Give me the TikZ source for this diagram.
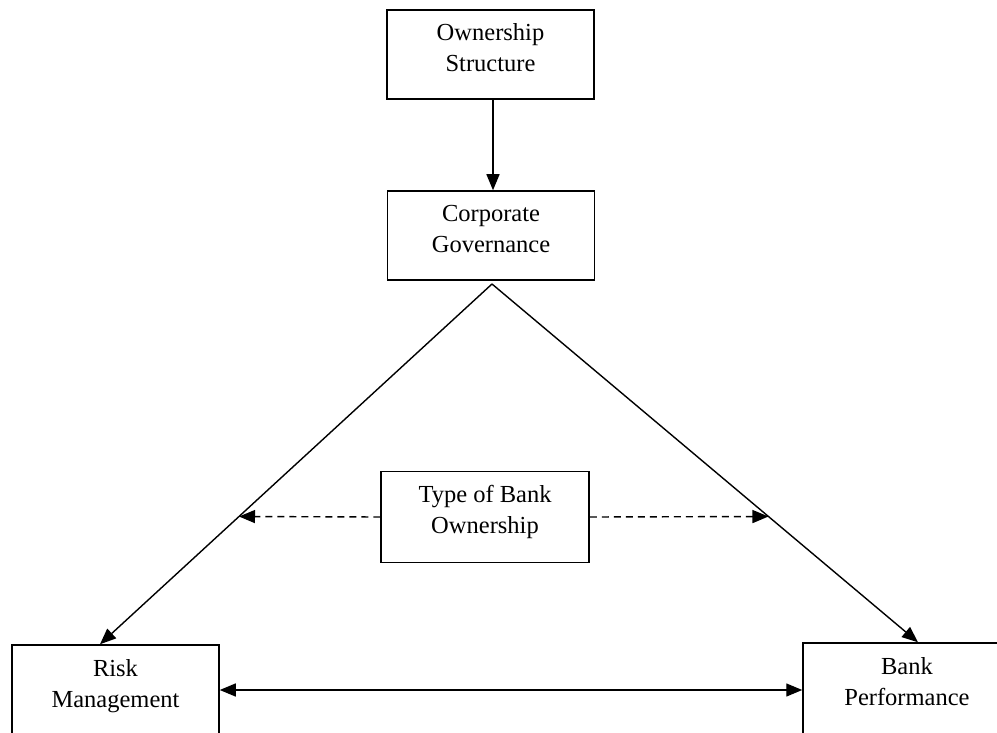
\documentclass[tikz,border=0pt]{standalone}
\usepackage{fontspec}
\setmainfont{Liberation Serif}
\usetikzlibrary{arrows.meta}
\begin{document}
\begin{tikzpicture}[x=1pt,y=-1pt,
  box/.style={draw,line width=1.5pt,inner sep=0pt,minimum width=207pt,minimum height=90pt},
  lbl/.style={anchor=base,align=center,inner sep=0pt,font=\fontsize{24.5}{31}\selectfont},
  conn/.style={line width=1.4pt,-{Triangle[length=16pt,width=13pt]}},
  dconn/.style={conn,dash pattern=on 7pt off 5pt},
  biconn/.style={line width=1.4pt,{Triangle[length=16pt,width=13pt]}-{Triangle[length=16pt,width=13pt]}}]
\useasboundingbox (0,0) rectangle (997,733);
\begin{scope}
\clip (0,0) rectangle (997,733);
\node[box,minimum height=89pt] (own) at (490.5,54.5) {};
\node[box,minimum height=89pt] (corp) at (491,235.5) {};
\node[box,minimum height=91pt,minimum width=208pt] (type) at (485,517) {};
\node[box,minimum height=91pt] (risk) at (115.5,690.5) {};
\node[box,minimum height=91pt,minimum width=208pt] (bank) at (907,688.5) {};
\end{scope}
\node[lbl] (ownt) at ([yshift=-62pt]own.north) {Ownership\\Structure};
\node[lbl] (corpt) at ([yshift=-62pt]corp.north) {Corporate\\Governance};
\node[lbl] (typet) at ([yshift=-63pt]type.north) {Type of Bank\\Ownership};
\node[lbl] (riskt) at ([yshift=-63pt]risk.north) {Risk\\Management};
\node[lbl] (bankt) at ([yshift=-63pt]bank.north) {Bank\\Performance};
\coordinate (apex) at (492,284);
\coordinate (rtip) at ([xshift=-15.5pt]risk.north);
\coordinate (btip) at ([xshift=11pt]bank.north);
\path (apex) -- (rtip) coordinate[pos=0.6454] (lm);
\path (apex) -- (btip) coordinate[pos=0.649] (rm);
\draw[conn] ([xshift=2.5pt]own.south) -- ([xshift=2pt]corp.north);
\draw[conn] (apex) -- (rtip);
\draw[conn] (apex) -- (btip);
\draw[dconn] (type.west) -- (lm);
\draw[dconn] (type.east) -- (rm);
\draw[biconn] (risk.east |- 0,690) -- (bank.west |- 0,690);
\end{tikzpicture}
\end{document}
